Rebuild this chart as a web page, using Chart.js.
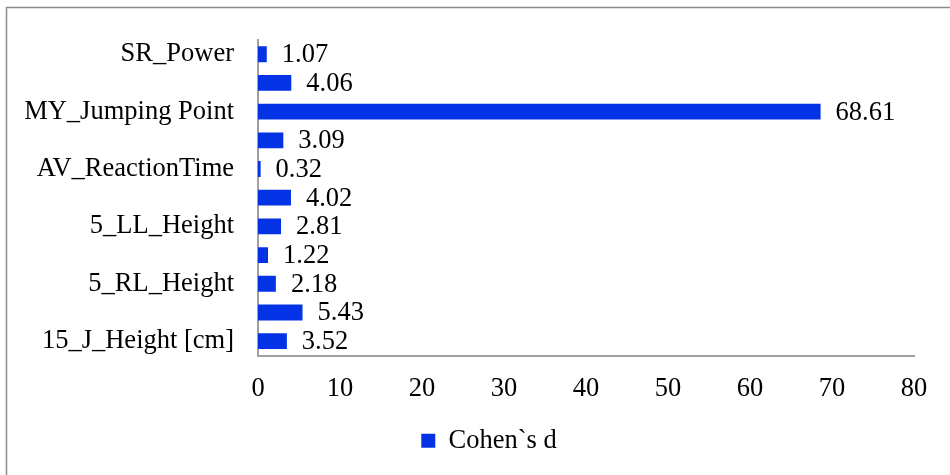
<!DOCTYPE html>
<html>
<head>
<meta charset="utf-8">
<script src="https://cdn.jsdelivr.net/npm/chart.js@4.4.1/dist/chart.umd.min.js"></script>
<style>
  html, body { margin: 0; padding: 0; background: #ffffff; }
  #wrap { width: 950px; height: 475px; position: relative; }
</style>
</head>
<body>
<div id="wrap"><canvas id="c" width="950" height="475"></canvas></div>
<script>
// Categories listed top to bottom; unlabeled rows are skipped by the axis in the reference
const categories = ['SR_Power', '', 'MY_Jumping Point', '', 'AV_ReactionTime', '', '5_LL_Height', '', '5_RL_Height', '', '15_J_Height [cm]'];
const cohensD = [1.07, 4.06, 68.61, 3.09, 0.32, 4.02, 2.81, 1.22, 2.18, 5.43, 3.52];
const seriesName = 'Cohen`s d';
const xTicks = [0, 10, 20, 30, 40, 50, 60, 70, 80];

const FONT = "'Liberation Serif', 'Times New Roman', serif";
const FSIZE = 26.5;
const BLUE = '#0433E6';

const frame = {
  id: 'frame',
  beforeDraw(chart) {
    const ctx = chart.ctx;
    ctx.save();
    ctx.fillStyle = '#ffffff';
    ctx.fillRect(0, 0, chart.width, chart.height);
    ctx.strokeStyle = '#8c8c8c';
    ctx.lineWidth = 1.5;
    ctx.beginPath();
    ctx.moveTo(6.5, chart.height);
    ctx.lineTo(6.5, 7.5);
    ctx.lineTo(chart.width, 7.5);
    ctx.stroke();
    ctx.restore();
  }
};

// shift the legend block a little to the right, as in the reference
const legendShift = {
  id: 'legendShift',
  afterLayout(chart) {
    if (chart.legend) {
      chart.legend.left += 32;
      chart.legend.right += 32;
    }
  }
};

const valueLabels = {
  id: 'valueLabels',
  afterDatasetsDraw(chart) {
    const ctx = chart.ctx;
    const meta = chart.getDatasetMeta(0);
    ctx.save();
    ctx.font = FSIZE + 'px ' + FONT;
    ctx.fillStyle = '#000000';
    ctx.textAlign = 'left';
    ctx.textBaseline = 'middle';
    meta.data.forEach((bar, i) => {
      ctx.fillText(cohensD[i].toFixed(2), bar.x + 15, bar.y + 1);
    });
    ctx.restore();
  }
};

new Chart(document.getElementById('c'), {
  type: 'bar',
  data: {
    labels: categories,
    datasets: [{
      label: seriesName,
      data: cohensD,
      backgroundColor: BLUE,
      borderWidth: 0,
      barPercentage: 0.8,
      categoryPercentage: 0.69
    }]
  },
  options: {
    indexAxis: 'y',
    responsive: false,
    animation: false,
    devicePixelRatio: 1,
    layout: { padding: { left: 0, right: 36, top: 35, bottom: 11 } },
    plugins: {
      legend: {
        display: true,
        position: 'bottom',
        labels: {
          color: '#000000',
          font: { family: FONT, size: FSIZE },
          boxWidth: 14,
          boxHeight: 14,
          padding: 10
        }
      },
      tooltip: { enabled: false }
    },
    scales: {
      x: {
        min: 0,
        max: 80,
        afterBuildTicks(scale) { scale.ticks = xTicks.map(v => ({ value: v })); },
        grid: { display: false, drawTicks: false },
        border: { display: true, color: '#a0a0a0', width: 2 },
        ticks: {
          color: '#000000',
          font: { family: FONT, size: FSIZE },
          padding: 18,
          maxRotation: 0
        },
        afterFit(scale) { scale.height = 62; }
      },
      y: {
        grid: { display: false, drawTicks: false },
        border: { display: true, color: '#a0a0a0', width: 2 },
        ticks: {
          color: '#000000',
          font: { family: FONT, size: FSIZE },
          padding: 24,
          autoSkip: false
        },
        afterFit(scale) { scale.width = 258; }
      }
    }
  },
  plugins: [frame, legendShift, valueLabels]
});
</script>
</body>
</html>
